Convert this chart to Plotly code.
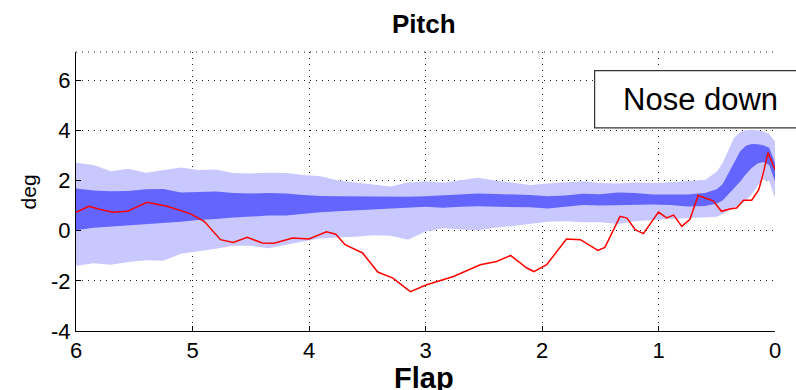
import plotly.graph_objects as go

# ---- data ----
band_x = [6.0, 5.85, 5.7, 5.55, 5.4, 5.25, 5.1, 4.95, 4.8, 4.65, 4.5, 4.35, 4.2, 4.05, 3.9, 3.75,
          3.6, 3.45, 3.3, 3.15, 3.0, 2.85, 2.7, 2.55, 2.4, 2.25, 2.1, 1.95, 1.8, 1.65, 1.5, 1.35,
          1.2, 1.05, 0.9, 0.75, 0.6, 0.5, 0.45, 0.4, 0.35, 0.3, 0.25, 0.2, 0.15, 0.1, 0.05, 0.0]
outer_upper = [2.71, 2.62, 2.37, 2.47, 2.31, 2.40, 2.52, 2.42, 2.44, 2.30, 2.28, 2.31, 2.30, 2.22, 2.17, 2.00,
               1.92, 1.82, 1.76, 1.92, 1.97, 1.91, 2.00, 2.11, 2.00, 1.91, 1.82, 1.88, 1.93, 1.97, 1.90, 1.88,
               1.92, 1.90, 1.93, 1.97, 2.02, 2.35, 2.70, 3.20, 3.70, 3.93, 4.00, 4.02, 4.00, 3.95, 3.85, 3.55]
inner_upper = [1.68, 1.60, 1.57, 1.58, 1.65, 1.66, 1.52, 1.55, 1.56, 1.50, 1.48, 1.50, 1.48, 1.42, 1.38, 1.37,
               1.36, 1.35, 1.35, 1.35, 1.37, 1.40, 1.46, 1.48, 1.46, 1.44, 1.42, 1.37, 1.40, 1.47, 1.45, 1.52,
               1.50, 1.44, 1.44, 1.44, 1.50, 1.65, 1.85, 2.30, 2.72, 3.15, 3.38, 3.45, 3.44, 3.40, 3.30, 2.70]
inner_lower = [0.02, 0.12, 0.17, 0.20, 0.25, 0.30, 0.35, 0.42, 0.46, 0.52, 0.57, 0.60, 0.60, 0.68, 0.73, 0.77,
               0.80, 0.84, 0.88, 0.92, 0.95, 0.91, 0.95, 0.97, 0.96, 0.95, 0.93, 0.88, 0.95, 1.02, 1.00, 1.00,
               1.02, 1.04, 1.02, 0.96, 0.98, 1.08, 1.20, 1.45, 1.70, 1.95, 2.25, 2.50, 2.68, 2.74, 2.62, 1.97]
outer_lower = [-1.40, -1.30, -1.36, -1.25, -1.18, -1.20, -0.92, -0.82, -0.72, -0.60, -0.60, -0.70, -0.56, -0.43, -0.30, -0.26,
               -0.24, -0.18, -0.20, -0.36, -0.03, 0.10, 0.05, 0.02, 0.12, 0.18, 0.26, 0.35, 0.37, 0.33, 0.33, 0.26,
               0.37, 0.42, 0.46, 0.50, 0.52, 0.55, 0.65, 0.78, 0.92, 1.02, 1.20, 1.44, 1.80, 2.04, 1.97, 1.31]

flap_x = [6.0, 5.89, 5.79, 5.68, 5.56, 5.39, 5.22, 5.02, 4.9, 4.76, 4.65, 4.53, 4.4, 4.3, 4.14, 4.0,
          3.85, 3.77, 3.69, 3.54, 3.41, 3.28, 3.13, 2.99, 2.76, 2.53, 2.39, 2.27, 2.13, 2.07, 1.96,
          1.79, 1.67, 1.52, 1.46, 1.33, 1.27, 1.2, 1.13, 1.0, 0.93, 0.87, 0.8, 0.73, 0.66, 0.53,
          0.46, 0.39, 0.33, 0.27, 0.2, 0.14, 0.1, 0.06, 0.0]
pitch = [0.73, 0.97, 0.84, 0.73, 0.77, 1.13, 0.97, 0.68, 0.37, -0.36, -0.47, -0.27, -0.49, -0.50, -0.29, -0.33,
         -0.05, -0.14, -0.56, -0.89, -1.65, -1.89, -2.43, -2.16, -1.83, -1.36, -1.23, -0.99, -1.49, -1.63, -1.36,
         -0.33, -0.36, -0.79, -0.67, 0.57, 0.50, 0.04, -0.12, 0.74, 0.51, 0.62, 0.17, 0.45, 1.40, 1.19,
         0.77, 0.86, 0.90, 1.21, 1.21, 1.62, 2.30, 3.11, 2.44]

x_ticks = [6, 5, 4, 3, 2, 1, 0]
y_ticks = [-4, -2, 0, 2, 4, 6]

# ---- figure ----
W, H = 796, 390
L, R, T, B = 75.5, 775, 52.3, 331
FONT = "Arial, Liberation Sans, sans-serif"

def px_x(px):
    return (px - L) / (R - L)

def px_y(py):
    return (B - py) / (B - T)

fig = go.Figure()
fig.add_trace(go.Scatter(x=band_x + band_x[::-1], y=outer_upper + outer_lower[::-1],
                         fill="toself", fillcolor="#C8C8FF", line=dict(width=0),
                         mode="lines", hoverinfo="skip", showlegend=False))
fig.add_trace(go.Scatter(x=band_x + band_x[::-1], y=inner_upper + inner_lower[::-1],
                         fill="toself", fillcolor="#6464FF", line=dict(width=0),
                         mode="lines", hoverinfo="skip", showlegend=False))
fig.add_trace(go.Scatter(x=flap_x, y=pitch, mode="lines",
                         line=dict(color="#FF0000", width=1.5), showlegend=False))

grid = dict(showgrid=True, gridcolor="#222222", gridwidth=1, griddash="1px,5px")
fig.update_xaxes(range=[6, 0], tickvals=x_ticks, ticktext=[str(v) for v in x_ticks],
                 showline=True, linecolor="black", linewidth=1, ticks="inside", ticklen=5,
                 tickcolor="black", tickfont=dict(family=FONT, size=22, color="black"),
                 zeroline=False, mirror=False, **grid)
fig.update_yaxes(range=[-4, 7.12], tickvals=y_ticks, ticktext=[str(v) for v in y_ticks],
                 showline=True, linecolor="black", linewidth=1, ticks="inside", ticklen=5,
                 tickcolor="black", tickfont=dict(family=FONT, size=22, color="black"),
                 zeroline=False, mirror=False, **grid)

# top border drawn dotted like the grid
fig.add_shape(type="line", xref="paper", yref="paper", x0=0, x1=1, y0=1, y1=1,
              line=dict(color="#222222", width=1, dash="1px,5px"), layer="above")

# legend-like box "Nose down"
fig.add_shape(type="rect", xref="paper", yref="paper",
              x0=px_x(594.5), x1=px_x(805), y0=px_y(128), y1=px_y(71),
              line=dict(color="#333333", width=1.2), fillcolor="white", layer="above")
fig.add_annotation(xref="paper", yref="paper", x=px_x(700), y=px_y(100),
                   text="Nose down", showarrow=False, xanchor="center", yanchor="middle",
                   font=dict(family=FONT, size=31, color="black"))

# titles
fig.add_annotation(xref="paper", yref="paper", x=px_x(424), y=px_y(24),
                   text="<b>Pitch</b>", showarrow=False, xanchor="center", yanchor="middle",
                   font=dict(family=FONT, size=26, color="black"))
fig.add_annotation(xref="paper", yref="paper", x=px_x(424), y=px_y(378),
                   text="<b>Flap</b>", showarrow=False, xanchor="center", yanchor="middle",
                   font=dict(family=FONT, size=29, color="black"))
fig.add_annotation(xref="paper", yref="paper", x=px_x(28), y=px_y(192),
                   text="deg", showarrow=False, textangle=-90, xanchor="center", yanchor="middle",
                   font=dict(family=FONT, size=21, color="black"))

fig.update_layout(width=W, height=H, margin=dict(l=L, r=W - R, t=T, b=H - B),
                  paper_bgcolor="white", plot_bgcolor="white", showlegend=False)

fig.write_html("out.html")
